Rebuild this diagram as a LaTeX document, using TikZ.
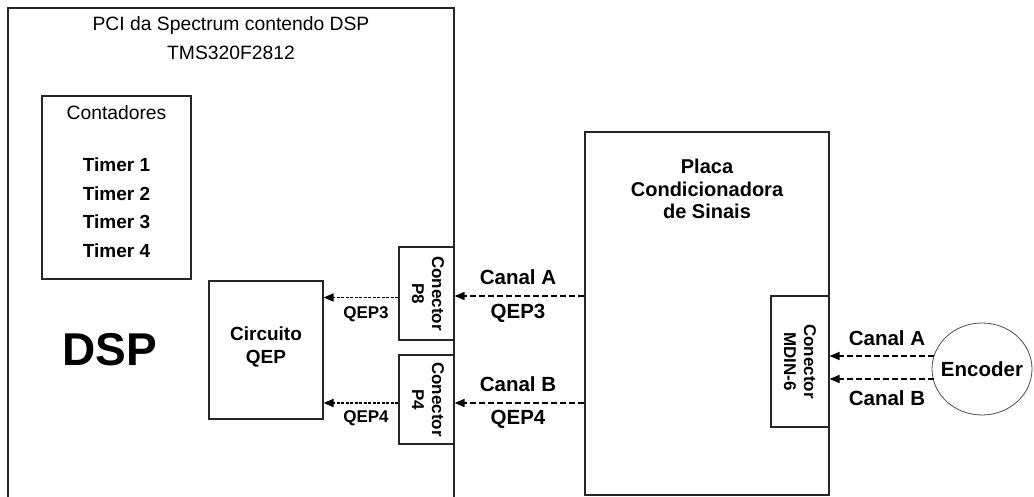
\documentclass[tikz,border=0pt]{standalone}
\usepackage{fontspec}
\setmainfont{Liberation Sans}
\usetikzlibrary{arrows.meta,shapes.geometric}
\newcommand\fsz[1]{\fontsize{#1}{#1}\selectfont}
\tikzset{
  box/.style={draw=black!85, line width=1.1pt, rectangle, inner sep=0pt},
  lbl/.style={inner sep=0pt, font=\fsz{19.3}},
  blbl/.style={inner sep=0pt, font=\fsz{19}\bfseries},
  albl/.style={inner sep=0pt, font=\fsz{20.5}\bfseries},
  slbl/.style={inner sep=0pt, font=\fsz{17}\bfseries},
  conn/.style={inner sep=0pt, rotate=-90, align=center, font=\fontsize{17}{20}\selectfont\bfseries},
  arrA/.style={line width=1.6pt, dash pattern=on 6pt off 3pt, -{Triangle[length=10pt,width=8pt]}},
  arrB/.style={line width=1.8pt, dash pattern=on 3pt off 1.5pt, -{Triangle[length=10pt,width=8pt]}},
}
\begin{document}
\begin{tikzpicture}[x=1pt,y=-1pt]
\useasboundingbox (0,0) rectangle (1034,497);
% PCI outline (open at the bottom)
\draw[black!85, line width=1.1pt] (8,497) -- (8,8) -- (454,8) -- (454,497);
\node[lbl] (pcit) at (231,26) {PCI da Spectrum contendo DSP};
\node[lbl] (pcit2) at (231,53) {TMS320F2812};
% Contadores
\node[box, minimum width=149pt, minimum height=183pt] (cont) at (116.5,187.5) {};
\node[lbl] (ctit) at (116.5,113) {Contadores};
\node[blbl] (t1) at (116.5,165) {Timer 1};
\node[blbl] (t2) at (116.5,193.5) {Timer 2};
\node[blbl] (t3) at (116.5,222) {Timer 3};
\node[blbl] (t4) at (116.5,250.5) {Timer 4};
% DSP
\node[inner sep=0pt, font=\fsz{46}\bfseries] (dsp) at (110,350) {DSP};
% Circuito QEP
\node[box, minimum width=114pt, minimum height=138pt] (qep) at (266,350) {};
\node[blbl] (qept1) at (266,334) {Circuito};
\node[blbl] (qept2) at (266,359) {QEP};
% Connectors P8 / P4
\node[box, minimum width=55pt, minimum height=93pt] (p8) at (426.5,293.5) {};
\node[conn] (p8t) at ([xshift=1.5pt]p8.center) {Conector\\P8};
\node[box, minimum width=55pt, minimum height=89pt] (p4) at (426.5,399.5) {};
\node[conn] (p4t) at ([xshift=1.5pt]p4.center) {Conector\\P4};
% Placa
\node[box, minimum width=244pt, minimum height=363pt] (placa) at (707,313.5) {};
\node[inner sep=0pt, align=center, font=\fontsize{20}{22.5}\selectfont\bfseries] (placat) at (707,189) {Placa\\Condicionadora\\de Sinais};
% MDIN
\node[box, minimum width=58pt, minimum height=131pt] (mdin) at (800,361.5) {};
\node[conn] (mdint) at (mdin.center) {Conector\\MDIN-6};
% Encoder
\node[draw=black!70, line width=0.8pt, ellipse, minimum width=100pt, minimum height=92pt, inner sep=0pt] (enc) at (982,369) {};
\node[inner sep=0pt, font=\fsz{20.5}\bfseries] (enct) at (enc.center) {Encoder};
% arrow rows
\coordinate (ya) at (0,296);
\coordinate (yb) at (0,403);
\coordinate (yia) at (0,297.5);
\coordinate (yib) at (0,403);
\coordinate (yea) at (0,356);
\coordinate (yeb) at (0,379);
\draw[arrA] (placa.west |- ya) -- (p8.east |- ya);
\draw[arrA] (placa.west |- yb) -- (p4.east |- yb);
\draw[arrB] (p8.west |- yia) -- (qep.east |- yia);
\draw[arrB] (p4.west |- yib) -- (qep.east |- yib);
\draw[arrA] ([xshift=2pt]enc.west |- yea) -- (mdin.east |- yea);
\draw[arrA] ([xshift=2pt]enc.west |- yeb) -- (mdin.east |- yeb);
% labels
\node[albl] (la) at (518,277) {Canal A};
\node[albl] (lq3) at (518,313) {QEP3};
\node[albl] (lb) at (518,384) {Canal B};
\node[albl] (lq4) at (518,419) {QEP4};
\node[slbl] (iq3) at (366,314) {QEP3};
\node[slbl] (iq4) at (366,418) {QEP4};
\node[albl] (ea) at (887,338) {Canal A};
\node[albl] (eb) at (887,398) {Canal B};
\end{tikzpicture}
\end{document}
